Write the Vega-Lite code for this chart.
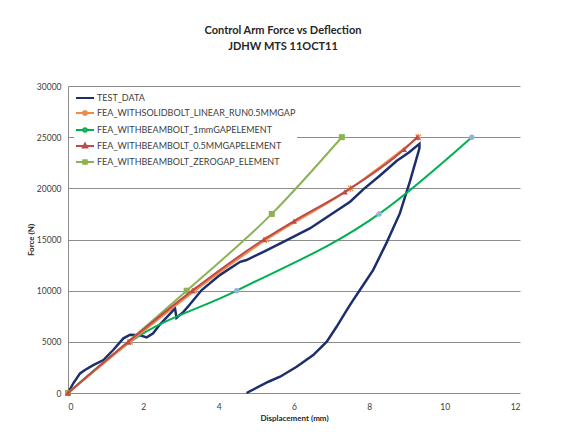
{
  "$schema": "https://vega.github.io/schema/vega-lite/v6.json",
  "width": 452,
  "height": 307,
  "autosize": {"type": "none"},
  "padding": {"left": 68, "top": 86, "right": 43, "bottom": 43},
  "background": "white",
  "title": {
    "text": ["Control Arm Force vs Deflection", "JDHW MTS 11OCT11"],
    "font": "Lato",
    "fontSize": 11,
    "fontWeight": "bold",
    "color": "#262626",
    "anchor": "middle",
    "frame": "group",
    "dx": -11,
    "offset": 30,
    "lineHeight": 16
  },
  "config": {"view": {"stroke": null}, "font": "Lato"},
  "data": {
    "values": [
      {"series": "TEST_DATA", "i": 0, "disp": 0, "force": 0},
      {"series": "TEST_DATA", "i": 1, "disp": 0.14, "force": 950},
      {"series": "TEST_DATA", "i": 2, "disp": 0.32, "force": 1920},
      {"series": "TEST_DATA", "i": 3, "disp": 0.45, "force": 2250},
      {"series": "TEST_DATA", "i": 4, "disp": 0.67, "force": 2730},
      {"series": "TEST_DATA", "i": 5, "disp": 0.94, "force": 3220},
      {"series": "TEST_DATA", "i": 6, "disp": 1.2, "force": 4200},
      {"series": "TEST_DATA", "i": 7, "disp": 1.47, "force": 5340},
      {"series": "TEST_DATA", "i": 8, "disp": 1.65, "force": 5700},
      {"series": "TEST_DATA", "i": 9, "disp": 1.91, "force": 5640},
      {"series": "TEST_DATA", "i": 10, "disp": 2.09, "force": 5440},
      {"series": "TEST_DATA", "i": 11, "disp": 2.26, "force": 5830},
      {"series": "TEST_DATA", "i": 12, "disp": 2.44, "force": 6700},
      {"series": "TEST_DATA", "i": 13, "disp": 2.75, "force": 7900},
      {"series": "TEST_DATA", "i": 14, "disp": 2.84, "force": 8300},
      {"series": "TEST_DATA", "i": 15, "disp": 2.88, "force": 7350},
      {"series": "TEST_DATA", "i": 16, "disp": 3.06, "force": 7900},
      {"series": "TEST_DATA", "i": 17, "disp": 3.2, "force": 8500},
      {"series": "TEST_DATA", "i": 18, "disp": 3.55, "force": 10060},
      {"series": "TEST_DATA", "i": 19, "disp": 4.03, "force": 11520},
      {"series": "TEST_DATA", "i": 20, "disp": 4.57, "force": 12820},
      {"series": "TEST_DATA", "i": 21, "disp": 4.74, "force": 12990},
      {"series": "TEST_DATA", "i": 22, "disp": 5.19, "force": 13800},
      {"series": "TEST_DATA", "i": 23, "disp": 5.81, "force": 14940},
      {"series": "TEST_DATA", "i": 24, "disp": 6.16, "force": 15600},
      {"series": "TEST_DATA", "i": 25, "disp": 6.42, "force": 16080},
      {"series": "TEST_DATA", "i": 26, "disp": 6.96, "force": 17400},
      {"series": "TEST_DATA", "i": 27, "disp": 7.49, "force": 18690},
      {"series": "TEST_DATA", "i": 28, "disp": 7.84, "force": 19900},
      {"series": "TEST_DATA", "i": 29, "disp": 8.3, "force": 21300},
      {"series": "TEST_DATA", "i": 30, "disp": 8.73, "force": 22700},
      {"series": "TEST_DATA", "i": 31, "disp": 9.05, "force": 23500},
      {"series": "TEST_DATA", "i": 32, "disp": 9.33, "force": 24350},
      {"series": "TEST_DATA", "i": 33, "disp": 9.33, "force": 23900},
      {"series": "TEST_DATA", "i": 34, "disp": 9.08, "force": 20700},
      {"series": "TEST_DATA", "i": 35, "disp": 8.81, "force": 17550},
      {"series": "TEST_DATA", "i": 36, "disp": 8.45, "force": 14620},
      {"series": "TEST_DATA", "i": 37, "disp": 8.1, "force": 12010},
      {"series": "TEST_DATA", "i": 38, "disp": 7.75, "force": 10060},
      {"series": "TEST_DATA", "i": 39, "disp": 7.57, "force": 9080},
      {"series": "TEST_DATA", "i": 40, "disp": 7.4, "force": 8100},
      {"series": "TEST_DATA", "i": 41, "disp": 7.13, "force": 6470},
      {"series": "TEST_DATA", "i": 42, "disp": 6.87, "force": 5010},
      {"series": "TEST_DATA", "i": 43, "disp": 6.51, "force": 3710},
      {"series": "TEST_DATA", "i": 44, "disp": 6.07, "force": 2570},
      {"series": "TEST_DATA", "i": 45, "disp": 5.63, "force": 1590},
      {"series": "TEST_DATA", "i": 46, "disp": 5.32, "force": 1100},
      {"series": "TEST_DATA", "i": 47, "disp": 4.74, "force": 0},
      {"series": "FEA_WITHSOLIDBOLT_LINEAR_RUN0.5MMGAP", "i": 0, "disp": 0, "force": 0},
      {"series": "FEA_WITHSOLIDBOLT_LINEAR_RUN0.5MMGAP", "i": 1, "disp": 1.65, "force": 5000},
      {"series": "FEA_WITHSOLIDBOLT_LINEAR_RUN0.5MMGAP", "i": 2, "disp": 3.37, "force": 10000},
      {"series": "FEA_WITHSOLIDBOLT_LINEAR_RUN0.5MMGAP", "i": 3, "disp": 5.27, "force": 15000},
      {"series": "FEA_WITHSOLIDBOLT_LINEAR_RUN0.5MMGAP", "i": 4, "disp": 7.5, "force": 20000},
      {"series": "FEA_WITHSOLIDBOLT_LINEAR_RUN0.5MMGAP", "i": 5, "disp": 9.3, "force": 25000},
      {"series": "FEA_WITHBEAMBOLT_1mmGAPELEMENT", "i": 0, "disp": 0, "force": 0},
      {"series": "FEA_WITHBEAMBOLT_1mmGAPELEMENT", "i": 1, "disp": 1.65, "force": 5000},
      {"series": "FEA_WITHBEAMBOLT_1mmGAPELEMENT", "i": 2, "disp": 4.48, "force": 10000},
      {"series": "FEA_WITHBEAMBOLT_1mmGAPELEMENT", "i": 3, "disp": 8.26, "force": 17500},
      {"series": "FEA_WITHBEAMBOLT_1mmGAPELEMENT", "i": 4, "disp": 10.72, "force": 25000},
      {"series": "FEA_WITHBEAMBOLT_0.5MMGAPELEMENT", "i": 0, "disp": 0, "force": 0},
      {"series": "FEA_WITHBEAMBOLT_0.5MMGAPELEMENT", "i": 1, "disp": 1.6, "force": 5000},
      {"series": "FEA_WITHBEAMBOLT_0.5MMGAPELEMENT", "i": 2, "disp": 3.3, "force": 10000},
      {"series": "FEA_WITHBEAMBOLT_0.5MMGAPELEMENT", "i": 3, "disp": 5.2, "force": 15000},
      {"series": "FEA_WITHBEAMBOLT_0.5MMGAPELEMENT", "i": 4, "disp": 6.0, "force": 16800},
      {"series": "FEA_WITHBEAMBOLT_0.5MMGAPELEMENT", "i": 5, "disp": 7.35, "force": 19650},
      {"series": "FEA_WITHBEAMBOLT_0.5MMGAPELEMENT", "i": 6, "disp": 8.92, "force": 23800},
      {"series": "FEA_WITHBEAMBOLT_0.5MMGAPELEMENT", "i": 7, "disp": 9.27, "force": 25000},
      {"series": "FEA_WITHBEAMBOLT_ZEROGAP_ELEMENT", "i": 0, "disp": 0, "force": 0},
      {"series": "FEA_WITHBEAMBOLT_ZEROGAP_ELEMENT", "i": 1, "disp": 3.15, "force": 10000},
      {"series": "FEA_WITHBEAMBOLT_ZEROGAP_ELEMENT", "i": 2, "disp": 5.41, "force": 17500},
      {"series": "FEA_WITHBEAMBOLT_ZEROGAP_ELEMENT", "i": 3, "disp": 7.27, "force": 25000}
    ]
  },
  "encoding": {
    "x": {
      "field": "disp",
      "type": "quantitative",
      "scale": {"domain": [0, 12], "nice": false, "zero": false},
      "axis": {
        "values": [0, 2, 4, 6, 8, 10, 12],
        "grid": false,
        "domain": false,
        "ticks": false,
        "labelFont": "Lato",
        "labelFontSize": 8.5,
        "labelColor": "#404040",
        "labelPadding": 9,
        "title": "Displacement (mm)",
        "titleFont": "Lato",
        "titleFontSize": 8,
        "titleFontWeight": "bold",
        "titleColor": "#262626",
        "titlePadding": 4
      }
    },
    "y": {
      "field": "force",
      "type": "quantitative",
      "scale": {"domain": [0, 30000], "nice": false},
      "axis": {
        "values": [0, 5000, 10000, 15000, 20000, 25000, 30000],
        "format": "d",
        "grid": true,
        "gridColor": "#8c8c8c",
        "gridWidth": 1,
        "domain": true,
        "domainColor": "#8c8c8c",
        "ticks": false,
        "labelFont": "Lato",
        "labelFontSize": 8.5,
        "labelColor": "#404040",
        "labelPadding": 7,
        "title": "Force (N)",
        "titleFont": "Lato",
        "titleFontSize": 8,
        "titleFontWeight": "bold",
        "titleColor": "#262626",
        "titlePadding": 1
      }
    }
  },
  "layer": [
    {
      "transform": [{"filter": "datum.series === 'TEST_DATA'"}],
      "mark": {"type": "line", "strokeWidth": 2.5, "color": "#1B2F6E"},
      "encoding": {"order": {"field": "i", "type": "quantitative"}}
    },
    {
      "transform": [{"filter": "datum.series === 'FEA_WITHBEAMBOLT_1mmGAPELEMENT'"}],
      "mark": {"type": "line", "strokeWidth": 2, "interpolate": "monotone", "color": "#00B050",
        "point": {"shape": "circle", "size": 30, "filled": true, "color": "#95B3D7", "opacity": 1}},
      "encoding": {"order": {"field": "i", "type": "quantitative"}}
    },
    {
      "transform": [{"filter": "datum.series === 'FEA_WITHBEAMBOLT_ZEROGAP_ELEMENT'"}],
      "mark": {"type": "line", "strokeWidth": 2, "interpolate": "monotone", "color": "#8DB255",
        "point": {"shape": "square", "size": 36, "filled": true, "color": "#8DB255", "opacity": 1}},
      "encoding": {"order": {"field": "i", "type": "quantitative"}}
    },
    {
      "transform": [{"filter": "datum.series === 'FEA_WITHSOLIDBOLT_LINEAR_RUN0.5MMGAP'"}],
      "mark": {"type": "line", "strokeWidth": 2, "interpolate": "monotone", "color": "#F08A4B",
        "point": {"shape": "M-1,-1L1,1M-1,1L1,-1M0,-1.3V1.3", "size": 28, "filled": false, "color": "#F08A4B", "strokeWidth": 1.2, "opacity": 1}},
      "encoding": {"order": {"field": "i", "type": "quantitative"}}
    },
    {
      "transform": [{"filter": "datum.series === 'FEA_WITHBEAMBOLT_0.5MMGAPELEMENT'"}],
      "mark": {"type": "line", "strokeWidth": 2, "interpolate": "monotone", "color": "#BE4B48",
        "point": {"shape": "triangle-up", "size": 35, "filled": true, "color": "#BE4B48", "opacity": 1}},
      "encoding": {"order": {"field": "i", "type": "quantitative"}}
    },
    {
      "transform": [{"filter": "false"}],
      "mark": {"type": "point", "filled": true, "opacity": 1, "strokeWidth": 2},
      "encoding": {
        "fill": {
          "field": "series",
          "type": "nominal",
          "scale": {
            "domain": ["TEST_DATA", "FEA_WITHSOLIDBOLT_LINEAR_RUN0.5MMGAP", "FEA_WITHBEAMBOLT_1mmGAPELEMENT", "FEA_WITHBEAMBOLT_0.5MMGAPELEMENT", "FEA_WITHBEAMBOLT_ZEROGAP_ELEMENT"],
            "range": ["#1B2F6E", "#F08A4B", "#95B3D7", "#BE4B48", "#8DB255"]
          }
        },
        "stroke": {
          "field": "series",
          "type": "nominal",
          "scale": {
            "domain": ["TEST_DATA", "FEA_WITHSOLIDBOLT_LINEAR_RUN0.5MMGAP", "FEA_WITHBEAMBOLT_1mmGAPELEMENT", "FEA_WITHBEAMBOLT_0.5MMGAPELEMENT", "FEA_WITHBEAMBOLT_ZEROGAP_ELEMENT"],
            "range": ["#1B2F6E", "#F08A4B", "#00B050", "#BE4B48", "#8DB255"]
          }
        },
        "shape": {
          "field": "series",
          "type": "nominal",
          "scale": {
            "domain": ["TEST_DATA", "FEA_WITHSOLIDBOLT_LINEAR_RUN0.5MMGAP", "FEA_WITHBEAMBOLT_1mmGAPELEMENT", "FEA_WITHBEAMBOLT_0.5MMGAPELEMENT", "FEA_WITHBEAMBOLT_ZEROGAP_ELEMENT"],
            "range": [
              "M-1,0H1",
              "M-1,0H1M-0.24,-0.24L0.24,0.24M-0.24,0.24L0.24,-0.24M0,-0.3V0.3",
              "M-1,0H-0.2M0.2,0H1M-0.2,0A0.2,0.2,0,1,0,0.2,0A0.2,0.2,0,1,0,-0.2,0Z",
              "M-1,0H1M0,-0.26L0.24,0.18H-0.24Z",
              "M-1,0H1M-0.2,-0.2H0.2V0.2H-0.2Z"
            ]
          },
          "legend": {
            "orient": "none",
            "legendX": 6,
            "legendY": 1,
            "title": null,
            "symbolSize": 324,
            "symbolStrokeWidth": 2,
            "labelFont": "Lato",
            "labelFontSize": 9,
            "labelColor": "#404040",
            "labelOffset": 2,
            "labelLimit": 400,
            "rowPadding": -4,
            "padding": 1,
            "fillColor": "white"
          }
        }
      }
    }
  ]
}
